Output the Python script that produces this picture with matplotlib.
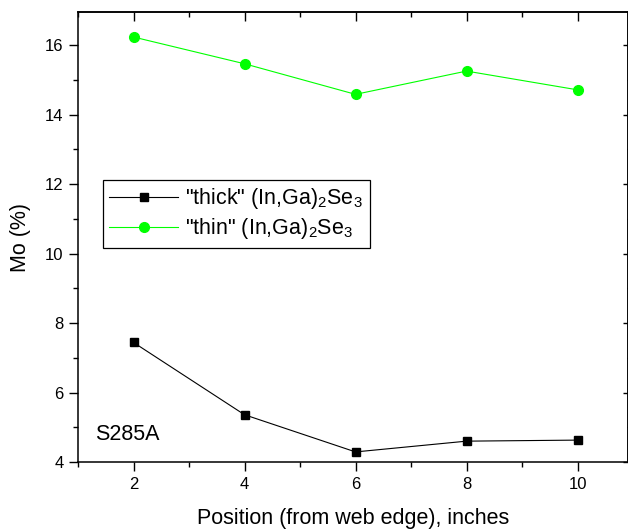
import matplotlib
matplotlib.use("Agg")
import matplotlib.pyplot as plt
from matplotlib.ticker import MultipleLocator

plt.rcParams["font.family"] = ["Liberation Sans", "DejaVu Sans"]
plt.rcParams["mathtext.default"] = "regular"

# data
position = [2, 4, 6, 8, 10]
mo_thick = [7.44, 5.36, 4.29, 4.60, 4.63]
mo_thin = [16.23, 15.46, 14.58, 15.25, 14.71]

labels = ['"thick" (In,Ga)$_2$Se$_3$', '"thin" (In,Ga)$_2$Se$_3$']
x_label = "Position (from web edge), inches"
y_label = "Mo (%)"
sample = "S285A"

fig = plt.figure(figsize=(6.28, 5.29), dpi=100)
ax = fig.add_axes([78 / 628, 67 / 529, 549.5 / 628, 450 / 529])

ax.plot(position, mo_thick, color="black", lw=0.8, marker="s", ms=6,
        label=labels[0])
ax.plot(position, mo_thin, color="#00ff00", lw=0.8, marker="o", ms=7,
        label=labels[1])

ax.set_xlim(1, 10.9)
ax.set_ylim(4, 16.95)
ax.xaxis.set_major_locator(MultipleLocator(2))
ax.xaxis.set_minor_locator(MultipleLocator(1))
ax.yaxis.set_major_locator(MultipleLocator(2))
ax.yaxis.set_minor_locator(MultipleLocator(1))

for s in ax.spines.values():
    s.set_linewidth(1.1)

ax.tick_params(which="both", direction="out", width=1.0, labelsize=12,
               top=False, right=False)
ax.tick_params(which="major", length=6.5, pad=4)
ax.tick_params(which="minor", length=3.5)

# inward ticks on top and right, no labels
sec_x = ax.secondary_xaxis("top")
sec_x.xaxis.set_major_locator(MultipleLocator(2))
sec_x.xaxis.set_minor_locator(MultipleLocator(1))
sec_x.tick_params(which="major", direction="in", length=6.5, width=1.0, labeltop=False)
sec_x.tick_params(which="minor", direction="in", length=3.5, width=1.0)
sec_y = ax.secondary_yaxis("right")
sec_y.yaxis.set_major_locator(MultipleLocator(2))
sec_y.yaxis.set_minor_locator(MultipleLocator(1))
sec_y.tick_params(which="major", direction="in", length=3.5, width=1.0, labelright=False)
sec_y.tick_params(which="minor", direction="in", length=1, width=1.0)
sec_x.spines["top"].set_linewidth(1.1)
sec_y.spines["right"].set_linewidth(1.1)

ax.set_xlabel(x_label, fontsize=15.5, labelpad=12)
ax.set_ylabel(y_label, fontsize=15.5, labelpad=10)

ax.text(1.31, 4.78, sample, fontsize=15.5, va="center", ha="left")

leg = ax.legend(loc="upper left", bbox_to_anchor=(0.0455, 0.627),
                borderaxespad=0, fontsize=15.5, handlelength=3.2,
                handletextpad=0.33, borderpad=0.3, labelspacing=0.22,
                fancybox=False, edgecolor="black", framealpha=1)
leg.get_frame().set_linewidth(0.9)

fig.savefig("out.png", dpi=100)
